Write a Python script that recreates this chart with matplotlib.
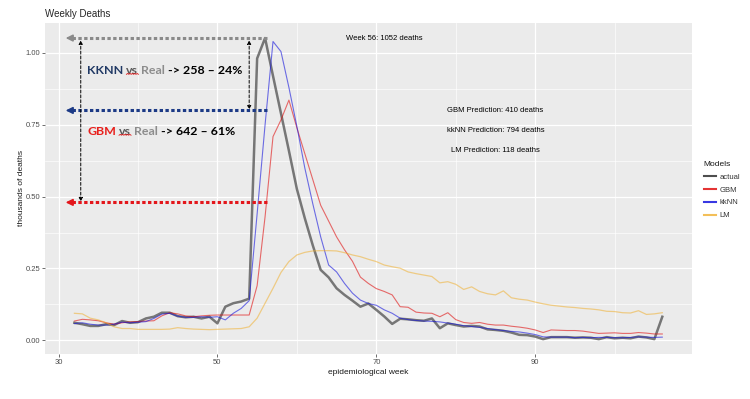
import numpy as np
import matplotlib
matplotlib.use('Agg')
import matplotlib.pyplot as plt
from matplotlib.lines import Line2D
from matplotlib.transforms import IdentityTransform

plt.rcParams['font.family'] = ['Liberation Sans', 'DejaVu Sans']

# epidemiological weeks 32..106, thousands of deaths
weeks = np.arange(32, 107)

actual = [0.061, 0.056, 0.050, 0.050, 0.056, 0.053, 0.067, 0.061, 0.063, 0.076,
          0.082, 0.096, 0.096, 0.084, 0.080, 0.082, 0.076, 0.082, 0.059, 0.117,
          0.129, 0.135, 0.145, 0.981, 1.052, 0.920, 0.790, 0.660, 0.527, 0.425,
          0.331, 0.245, 0.219, 0.181, 0.158, 0.138, 0.117, 0.128, 0.106, 0.083,
          0.057, 0.075, 0.073, 0.070, 0.068, 0.076, 0.042, 0.059, 0.053, 0.048,
          0.050, 0.048, 0.038, 0.036, 0.033, 0.027, 0.019, 0.018, 0.013, 0.004,
          0.011, 0.011, 0.011, 0.009, 0.010, 0.009, 0.004, 0.011, 0.007, 0.009,
          0.007, 0.013, 0.010, 0.004, 0.082]

gbm = [0.067, 0.073, 0.071, 0.068, 0.061, 0.056, 0.061, 0.064, 0.065, 0.067,
       0.068, 0.085, 0.096, 0.092, 0.085, 0.082, 0.085, 0.087, 0.088, 0.088,
       0.088, 0.088, 0.088, 0.190, 0.430, 0.709, 0.767, 0.836, 0.740, 0.650,
       0.560, 0.470, 0.415, 0.360, 0.315, 0.275, 0.220, 0.198, 0.180, 0.170,
       0.158, 0.117, 0.115, 0.098, 0.095, 0.094, 0.082, 0.096, 0.072, 0.062,
       0.059, 0.062, 0.056, 0.053, 0.053, 0.049, 0.046, 0.042, 0.036, 0.027,
       0.036, 0.035, 0.034, 0.034, 0.032, 0.028, 0.024, 0.025, 0.026, 0.024,
       0.024, 0.027, 0.025, 0.022, 0.022]

knn = [0.058, 0.061, 0.056, 0.053, 0.053, 0.056, 0.063, 0.061, 0.063, 0.065,
       0.076, 0.091, 0.094, 0.084, 0.080, 0.080, 0.082, 0.080, 0.082, 0.071,
       0.094, 0.111, 0.138, 0.440, 0.750, 1.040, 1.005, 0.880, 0.745, 0.600,
       0.476, 0.360, 0.262, 0.238, 0.198, 0.164, 0.140, 0.128, 0.122, 0.106,
       0.094, 0.077, 0.072, 0.069, 0.067, 0.066, 0.064, 0.060, 0.056, 0.051,
       0.048, 0.045, 0.041, 0.037, 0.034, 0.031, 0.029, 0.025, 0.020, 0.012,
       0.011, 0.011, 0.011, 0.009, 0.010, 0.009, 0.010, 0.010, 0.009, 0.009,
       0.010, 0.012, 0.011, 0.010, 0.011]

lm = [0.094, 0.092, 0.077, 0.071, 0.061, 0.047, 0.041, 0.041, 0.038, 0.038,
      0.038, 0.038, 0.039, 0.044, 0.041, 0.039, 0.038, 0.037, 0.038, 0.039,
      0.040, 0.041, 0.047, 0.077, 0.129, 0.181, 0.236, 0.274, 0.297, 0.306,
      0.311, 0.312, 0.312, 0.311, 0.305, 0.297, 0.291, 0.282, 0.274, 0.262,
      0.256, 0.251, 0.238, 0.232, 0.227, 0.222, 0.200, 0.204, 0.195, 0.177,
      0.186, 0.170, 0.162, 0.158, 0.172, 0.148, 0.143, 0.140, 0.133, 0.127,
      0.122, 0.119, 0.116, 0.114, 0.111, 0.109, 0.106, 0.101, 0.100, 0.096,
      0.095, 0.103, 0.090, 0.092, 0.096]

models = ['actual', 'GBM', 'kkNN', 'LM']
series = [actual, gbm, knn, lm]
colors = ['#444444', '#e01010', '#1515dd', '#f0b030']
widths = [1.8, 0.8, 0.8, 0.9]
alphas = [0.7, 0.6, 0.6, 0.55]

# annotation values
peak_week, peak_val = 56, 1.052
arrow_levels = [1.052, 0.80, 0.48]
arrow_colors = ['#8a8a8a', '#1c3a86', '#e3161b']
arrow_left = 30.9
arrow_right = 56.2
pred_texts = ['GBM Prediction: 410 deaths', 'kkNN Prediction: 794 deaths',
              'LM Prediction: 118 deaths']
pred_y = [0.80, 0.73, 0.66]

fig = plt.figure(figsize=(7.5, 3.99), dpi=100)
ax = fig.add_axes([45 / 750, 45 / 399, 646.7 / 750, 331 / 399])
ax.set_facecolor('#EBEBEB')
for s in ax.spines.values():
    s.set_visible(False)

ax.set_xlim(28.3, 109.7)
ax.set_ylim(-0.0477, 1.1044)
ax.set_xticks([30, 50, 70, 90])
ax.set_xticks([40, 60, 80, 100], minor=True)
ax.set_yticks([0, 0.25, 0.5, 0.75, 1.0])
ax.set_yticklabels(['0.00', '0.25', '0.50', '0.75', '1.00'])
ax.set_yticks([0.125, 0.375, 0.625, 0.875], minor=True)
ax.grid(which='major', color='white', lw=0.9)
ax.grid(which='minor', color='white', lw=0.45)
ax.set_axisbelow(True)
ax.tick_params(which='major', labelsize=5.5, labelcolor='#4D4D4D', color='#333333',
               length=2, width=0.5, pad=1.5)
ax.tick_params(which='minor', length=0)

for vals, name, c, w, a in zip(series, models, colors, widths, alphas):
    ax.plot(weeks, vals, color=c, lw=w, alpha=a, label=name)

# dotted horizontal arrows
for y, c in zip(arrow_levels, arrow_colors):
    ax.plot([arrow_right, arrow_left + 0.8], [y, y], color=c, lw=2.2,
            ls=(0, (1.1, 0.8)), dash_capstyle='butt')
    ax.annotate('', xy=(arrow_left, y), xytext=(arrow_left + 1.0, y),
                arrowprops=dict(arrowstyle='-|>', color=c, lw=1.2,
                                mutation_scale=10, shrinkA=0, shrinkB=0))

# vertical difference arrows
ax.annotate('', xy=(32.8, arrow_levels[2] + 0.003), xytext=(32.8, peak_val - 0.008),
            arrowprops=dict(arrowstyle='<|-|>', color='black', lw=0.7,
                            ls=(0, (3, 2)), mutation_scale=5.5, shrinkA=0, shrinkB=0))
ax.annotate('', xy=(54.0, arrow_levels[1] + 0.003), xytext=(54.0, peak_val - 0.008),
            arrowprops=dict(arrowstyle='<|-|>', color='black', lw=0.7,
                            ls=(0, (3, 2)), mutation_scale=5.5, shrinkA=0, shrinkB=0))

# text annotations
ax.text(71, peak_val, f'Week {peak_week}: {int(peak_val * 1000)} deaths',
        fontsize=5.5, ha='center', va='center', color='black')
for t, y in zip(pred_texts, pred_y):
    ax.text(85, y, t, fontsize=5.5, ha='center', va='center', color='black')


def colored_line(x, y, parts):
    out = []
    prev = ax.text(x, y, parts[0][0], color=parts[0][1], fontsize=8.9,
                   fontweight='bold', family='Lato', va='center', ha='left')
    out.append(prev)
    for txt, col in parts[1:]:
        prev = ax.annotate(txt, xy=(1, 0), xycoords=prev, xytext=(2.2, 0),
                           textcoords='offset points', color=col, fontsize=8.9,
                           fontweight='bold', family='Lato', va='bottom', ha='left')
        out.append(prev)
    return out


row1 = colored_line(33.6, 0.938, [('KKNN', '#1f3864'), ('vs', '#595959'),
                                   ('Real', '#8c8c8c'), ('-> 258 \u2013 24%', 'black')])
row2 = colored_line(33.6, 0.726, [('GBM', '#e8201c'), ('vs', '#595959'),
                                  ('Real', '#8c8c8c'), ('-> 642 \u2013 61%', 'black')])

fig.text(45 / 750, 1 - 14 / 399, 'Weekly Deaths', fontsize=7, color='#262626',
         ha='left', va='center')
fig.text(21.5 / 750, 1 - 188.5 / 399, 'thousands of deaths', fontsize=6,
         rotation=90, ha='center', va='center', color='#1a1a1a')
fig.text(368 / 750, 1 - 373 / 399, 'epidemiological week', fontsize=6,
         ha='center', va='center', color='#1a1a1a')

handles = [Line2D([], [], color=c, lw=1.5, alpha=min(a + 0.25, 1))
           for c, a in zip(colors, alphas)]
leg = ax.legend(handles, models, title='Models', loc='upper left',
                bbox_to_anchor=(700 / 750, 1 - 157 / 399), bbox_transform=fig.transFigure,
                frameon=False, fontsize=5.5, title_fontsize=6, handlelength=1.6,
                handletextpad=0.5, labelspacing=0.72, borderpad=0, alignment='left')
for t in leg.get_texts():
    t.set_color('#333333')
leg.get_title().set_color('#1a1a1a')

# red spell-check squiggles under "vs"
fig.canvas.draw()
renderer = fig.canvas.get_renderer()
for row in (row1, row2):
    bb = row[1].get_window_extent(renderer)
    xs = np.arange(bb.x0, bb.x1 + 0.1, 1.2)
    ys = bb.y0 + 2.0 + 0.8 * (np.arange(len(xs)) % 2)
    fig.add_artist(Line2D(xs, ys, transform=IdentityTransform(), color='#e01010', lw=0.6))

fig.savefig('out.png', dpi=100)
